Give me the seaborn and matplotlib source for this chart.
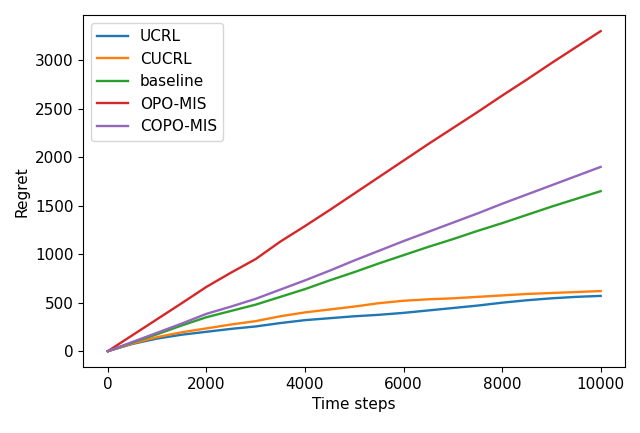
import pandas as pd
import seaborn as sns
import matplotlib.pyplot as plt

# regret curves, every 500 steps
steps = list(range(0, 10001, 500))
ucrl = [0, 75, 130, 170, 200, 230, 255, 290, 320, 340, 360,
        375, 395, 420, 445, 470, 500, 525, 545, 560, 570]
cucrl = [0, 80, 145, 195, 235, 275, 310, 360, 400, 430, 460,
         495, 520, 535, 545, 560, 575, 590, 600, 610, 620]
baseline = [0, 90, 175, 265, 350, 415, 480, 560, 640, 730, 815,
            905, 990, 1075, 1155, 1240, 1320, 1405, 1490, 1570, 1650]
opo_mis = [0, 165, 330, 495, 663, 810, 950, 1130, 1290, 1455, 1625,
           1795, 1965, 2135, 2300, 2465, 2635, 2800, 2970, 3135, 3300]
copo_mis = [0, 95, 190, 285, 385, 460, 540, 635, 730, 830, 935,
            1035, 1135, 1230, 1325, 1420, 1520, 1615, 1710, 1805, 1900]

labels = ['UCRL', 'CUCRL', 'baseline', 'OPO-MIS', 'COPO-MIS']
series = [ucrl, cucrl, baseline, opo_mis, copo_mis]

rows = []
for name, vals in zip(labels, series):
    for s, v in zip(steps, vals):
        rows.append({'Time steps': s, 'Regret': v, 'method': name})
df = pd.DataFrame(rows)

plt.rcParams['font.size'] = 11

fig = plt.figure(figsize=(6.4, 4.33), dpi=100)
ax = fig.add_axes([0.13, 0.152, 0.847, 0.813])
sns.lineplot(data=df, x='Time steps', y='Regret', hue='method',
             hue_order=labels, palette='tab10', linewidth=1.7, ax=ax)
ax.legend(loc='upper left', title=None)
ax.set_xticks([0, 2000, 4000, 6000, 8000, 10000])
fig.savefig('out.png', dpi=100)
